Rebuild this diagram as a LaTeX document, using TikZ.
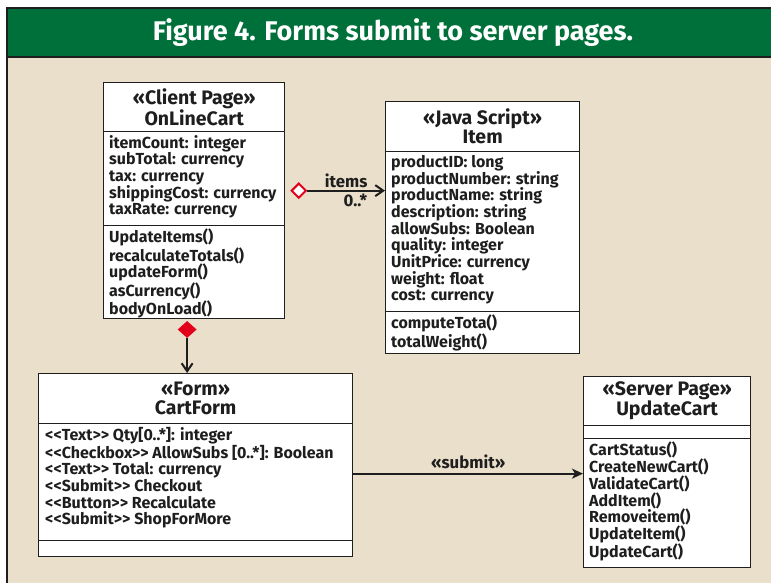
\documentclass[tikz,border=0pt]{standalone}
\usepackage{fontspec}
\setmainfont{Fira Sans}
\usetikzlibrary{arrows.meta,shapes.geometric}
\definecolor{bannergreen}{HTML}{00703A}
\definecolor{paper}{HTML}{EADFCA}
\definecolor{diared}{HTML}{E2001A}
\definecolor{ink}{HTML}{1E1E1E}
\tikzset{
  cbox/.style={draw=ink, fill=white, line width=1.3pt, inner sep=0pt, anchor=north west},
  headtxt/.style={align=center, inner sep=0pt, font=\fontsize{19.5}{19}\selectfont\bfseries, text=ink},
  bodytxt/.style={align=left, inner sep=0pt, anchor=north west, font=\fontsize{16}{16.7}\selectfont\bfseries, text=ink},
  conn/.style={draw=ink, line width=2pt, -{Straight Barb[length=8pt,width=11pt,line width=2pt]}},
  lbl/.style={font=\fontsize{16.8}{16}\selectfont\bfseries, text=ink, inner sep=2pt}
}
\begin{document}
\begin{tikzpicture}[x=1pt,y=-1pt]
\useasboundingbox (0,0) rectangle (771,583);
\fill[white] (0,0) rectangle (771,583);
\fill[paper] (7,57) rectangle (771,583);
\fill[bannergreen] (7,8) rectangle (771,57);
\draw[ink, line width=1.2pt] (7,583) -- (7,8) -- (771,8);
\draw[ink, line width=1.2pt] (7,57) -- (771,57);
\node[text=white, font=\fontsize{27}{28}\selectfont\bfseries, inner sep=0pt] (title) at (393,33) {Figure 4. Forms submit to server pages.};

% OnLineCart
\node[cbox, minimum width=181pt, minimum height=49pt] (olcH) at (103,82) {};
\node[cbox, minimum width=181pt, minimum height=94pt] (olcA) at (103,131) {};
\node[cbox, minimum width=181pt, minimum height=93pt] (olcO) at (103,225) {};
\node[headtxt] (olcHt) at (olcH.center) {«Client Page»\\OnLineCart};
\node[bodytxt] (olcAt) at ([xshift=6pt,yshift=-4pt]olcA.north west) {itemCount: integer\\subTotal: currency\\tax: currency\\shippingCost: currency\\taxRate: currency};
\node[bodytxt] (olcOt) at ([xshift=6pt,yshift=-4pt]olcO.north west) {UpdateItems()\\recalculateTotals()\\updateForm()\\asCurrency()\\bodyOnLoad()};

% Item
\node[cbox, minimum width=194pt, minimum height=50pt] (itH) at (385,101) {};
\node[cbox, minimum width=194pt, minimum height=160pt] (itA) at (385,151) {};
\node[cbox, minimum width=194pt, minimum height=42pt] (itO) at (385,311) {};
\node[headtxt] (itHt) at (itH.center) {«Java Script»\\Item};
\node[bodytxt] (itAt) at ([xshift=6pt,yshift=-4pt]itA.north west) {productID: long\\productNumber: string\\productName: string\\description: string\\allowSubs: Boolean\\quality: integer\\UnitPrice: currency\\weight: float\\cost: currency};
\node[bodytxt] (itOt) at ([xshift=6pt,yshift=-4pt]itO.north west) {computeTota()\\totalWeight()};

% CartForm
\node[cbox, minimum width=314pt, minimum height=50pt] (cfH) at (38,373) {};
\node[cbox, minimum width=314pt, minimum height=117pt] (cfA) at (38,423) {};
\node[cbox, minimum width=314pt, minimum height=16pt] (cfO) at (38,540) {};
\node[headtxt] (cfHt) at (cfH.center) {«Form»\\CartForm};
\node[bodytxt] (cfAt) at ([xshift=7pt,yshift=-4pt]cfA.north west) {<{}<Text>{}> Qty[0..*]: integer\\<{}<Checkbox>{}> AllowSubs [0..*]: Boolean\\<{}<Text>{}> Total: currency\\<{}<Submit>{}> Checkout\\<{}<Button>{}> Recalculate\\<{}<Submit>{}> ShopForMore};

% UpdateCart
\node[cbox, minimum width=167pt, minimum height=49pt] (ucH) at (583,376) {};
\node[cbox, minimum width=167pt, minimum height=13pt] (ucA) at (583,425) {};
\node[cbox, minimum width=167pt, minimum height=129pt] (ucO) at (583,438) {};
\node[headtxt] (ucHt) at (ucH.center) {«Server Page»\\UpdateCart};
\node[bodytxt] (ucOt) at ([xshift=6pt,yshift=-4pt]ucO.north west) {CartStatus()\\CreateNewCart()\\ValidateCart()\\AddItem()\\Removeitem()\\UpdateItem()\\UpdateCart()};

% aggregation OnLineCart -> Item
\node[diamond, draw=diared, fill=white, line width=2pt, minimum width=15pt, minimum height=15pt, inner sep=0pt, anchor=west] (agg) at ([xshift=5pt,yshift=-12pt]olcA.east) {};
\draw[conn] (agg.east) -- (agg.east -| itA.west)
  node[lbl, pos=0.5, above] (itemslbl) {items}
  node[lbl, pos=0.62, below] (multlbl) {0..*};

% composition OnLineCart -> CartForm
\node[diamond, fill=diared, minimum width=19pt, minimum height=17pt, inner sep=0pt, anchor=north] (comp) at ([xshift=-7pt,yshift=-1.5pt]olcO.south) {};
\draw[conn] (comp.south) -- (comp.south |- cfH.north);

% submit
\coordinate (sfrom) at ([yshift=8.5pt]cfA.east);
\draw[conn, -{Stealth[length=11pt,width=10pt,inset=3pt]}] (sfrom) -- (sfrom -| ucO.west)
  node[lbl, midway, above, yshift=2pt] (sublbl) {«submit»};
\end{tikzpicture}
\end{document}
